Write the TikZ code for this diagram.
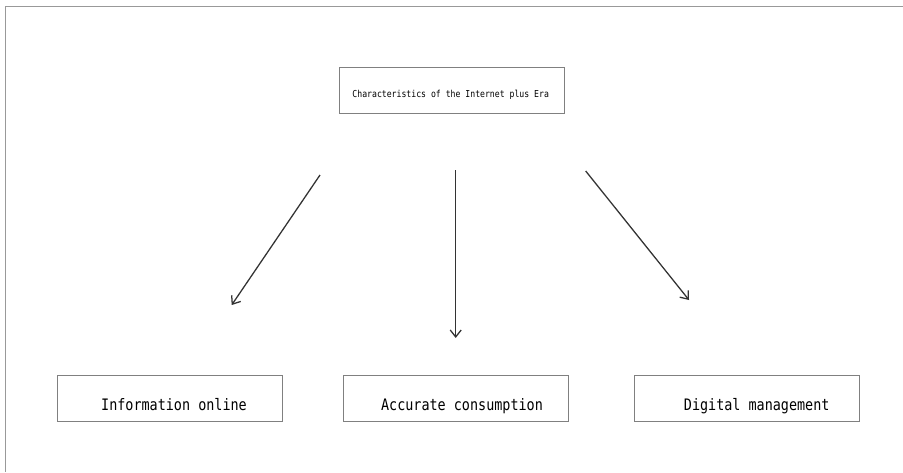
\documentclass[tikz,border=0pt]{standalone}
\usepackage{fontspec}
\usepackage{tikz}
\usetikzlibrary{arrows.meta}
\newfontfamily\boxfont[FakeStretch=0.85]{DejaVu Sans Mono}

\tikzset{
	catbox/.style={draw=black!50, line width=0.3mm, minimum width=225, minimum height=46, inner sep=0},
	boxtext/.style={font=\boxfont\fontsize{15.8}{18}\selectfont, text height=12pt, text depth=4pt, inner sep=0},
	toptext/.style={font=\boxfont\fontsize{9.6}{11}\selectfont, text height=7.3pt, text depth=2.3pt, inner sep=0},
	feature/.style={line width=0.45mm, color=black!80, -{Straight Barb[length=7pt, width=11pt]}}
}

\begin{document}
\begin{tikzpicture}[x=1pt, y=-1pt]
			%%%%% START %%%%%
			\useasboundingbox (0, 0) rectangle (903, 472);
			
			\draw[line width=0.5mm, color=black!40] (903, 6.5) -- (5.5, 6.5) -- (5.5, 472);
			
			\node[catbox, label={[toptext, xshift=-1, yshift=-5]center:Characteristics of the Internet plus Era}] (era) at (451.7, 90.3) {};
			
			\node[catbox, label={[boxtext, xshift=4.5, yshift=-8]center:Information online}] (online) at (169.5, 398) {};
			\node[catbox, label={[boxtext, xshift=6, yshift=-8]center:Accurate consumption}] (consume) at (456, 398) {};
			\node[catbox, label={[boxtext, xshift=9.7, yshift=-8]center:Digital management}] (digital) at (747, 398) {};
			
			\coordinate (online-from) at (320, 175);
			\coordinate (online-to) at (231.7, 305);
			\coordinate (consume-from) at (455.7, 170);
			\coordinate (consume-to) at (455.7, 338);
			\coordinate (digital-from) at (585.7, 171);
			\coordinate (digital-to) at (689, 300);
			
			\draw[feature] (online-from) -- (online-to);
			\draw[feature] (consume-from) -- (consume-to);
			\draw[feature] (digital-from) -- (digital-to);
			%%%%% END %%%%%
\end{tikzpicture}
\end{document}
